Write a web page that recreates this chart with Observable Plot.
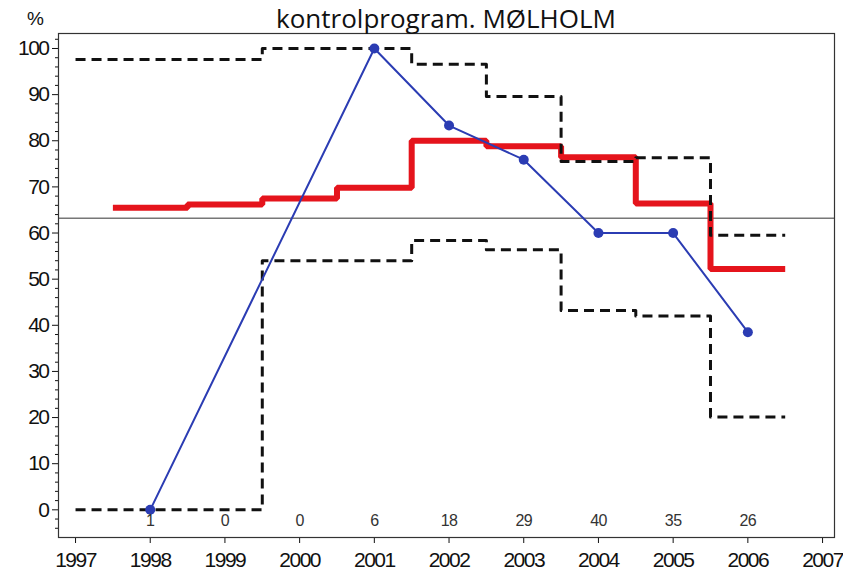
<!DOCTYPE html>
<html>
<head>
<meta charset="utf-8">
<script src="https://cdn.jsdelivr.net/npm/d3@7"></script>
<script src="https://cdn.jsdelivr.net/npm/@observablehq/plot@0.6"></script>
<style>
  body { margin: 0; background: #fff; }
  #chart svg g[aria-label$="tick label"] text { letter-spacing: -1.5px; }
  #chart svg g[aria-label="text"] text { letter-spacing: -0.6px; }
</style>
</head>
<body>
<div style="position:relative;width:843px;">
  <div style="position:relative;height:28px;">
    <div style="position:absolute;left:58px;width:776px;top:0px;text-align:center;font-family:'Open Sans',sans-serif;font-size:26px;line-height:normal;color:#111;white-space:nowrap;">kontrolprogram. MØLHOLM</div>
    <div style="position:absolute;left:27px;top:8px;font-family:'Liberation Sans',Arial,sans-serif;font-size:19px;color:#111;">%</div>
  </div>
  <div id="chart"></div>
</div>
<script>
// Data
const years = [1998, 1999, 2000, 2001, 2002, 2003, 2004, 2005, 2006];
const observed = [0, null, null, 100, 83.3, 75.9, 60, 60, 38.5];
const counts = [1, 0, 0, 6, 18, 29, 40, 35, 26];
const expected = [65.5, 66.2, 67.5, 69.8, 80, 78.8, 76.4, 66.4, 52.2];
const upper = [97.6, 97.6, 100, 100, 96.6, 89.6, 75.5, 76.3, 59.5];
const lower = [0, 0, 54, 54, 58.4, 56.4, 43.2, 42, 20.1];
const reference = 63.2;
const boundsStart = 1997;
const axisYears = [1997, 1998, 1999, 2000, 2001, 2002, 2003, 2004, 2005, 2006, 2007];
const yMajor = [0, 10, 20, 30, 40, 50, 60, 70, 80, 90, 100];
const yMinor = d3.range(-4, 103, 2).filter(v => v % 10 !== 0);

function steps(vals, start) {
  const pts = years.map((yr, i) => ({x: (i === 0 && start != null) ? start : yr - 0.5, y: vals[i]}));
  pts.push({x: years[years.length - 1] + 0.5, y: vals[vals.length - 1]});
  return pts;
}
const obsPts = years.map((yr, i) => ({x: yr, y: observed[i]})).filter(d => d.y != null);
const countPts = years.map((yr, i) => ({x: yr, n: counts[i]}));

const chart = Plot.plot({
  width: 843,
  height: 545,
  marginTop: 5,
  marginLeft: 58,
  marginRight: 9,
  marginBottom: 36,
  x: {domain: [1996.772, 2007.16]},
  y: {domain: [-6.0, 103.25]},
  style: {fontFamily: "'Liberation Sans', Arial, sans-serif", fontSize: "21px", color: "#111", background: "white"},
  marks: [
    Plot.ruleY([reference], {stroke: "#777", strokeWidth: 1.3}),
    Plot.axisX({ticks: axisYears, tickFormat: d => String(d), tickSize: 6, tickPadding: 9, label: null, fontSize: 21}),
    Plot.axisY({ticks: yMajor, tickSize: 6, tickPadding: 4, label: null, fontSize: 21}),
    Plot.axisY({ticks: yMinor, tickSize: 3, tickFormat: () => "", label: null}),
    Plot.line(steps(expected), {x: "x", y: "y", curve: "step-after", stroke: "#e5141c", strokeWidth: 6, strokeLinecap: "butt", strokeLinejoin: "miter"}),
    Plot.line(steps(upper, boundsStart), {x: "x", y: "y", curve: "step-after", stroke: "#111", strokeWidth: 3, strokeDasharray: "10,6", strokeLinecap: "butt"}),
    Plot.line(steps(lower, boundsStart), {x: "x", y: "y", curve: "step-after", stroke: "#111", strokeWidth: 3, strokeDasharray: "10,6", strokeLinecap: "butt"}),
    Plot.line(obsPts, {x: "x", y: "y", stroke: "#2b3cb3", strokeWidth: 2}),
    Plot.dot(obsPts, {x: "x", y: "y", r: 5, fill: "#2b3cb3", stroke: "none"}),
    Plot.text(countPts, {x: "x", y: () => -2.4, text: d => String(d.n), fontSize: 16, fill: "#333"}),
    Plot.frame({stroke: "#333", strokeWidth: 1.2})
  ]
});
document.getElementById("chart").appendChild(chart);
</script>
</body>
</html>
